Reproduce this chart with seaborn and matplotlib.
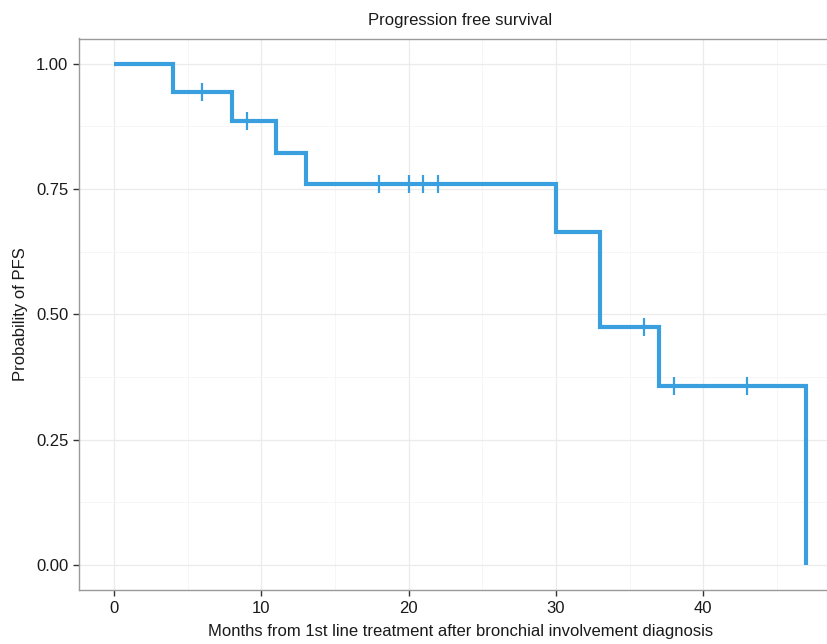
import matplotlib
matplotlib.use("Agg")
import matplotlib.pyplot as plt
import seaborn as sns
import pandas as pd

# Kaplan-Meier step data
step_months = [0, 4, 8, 11, 13, 30, 33, 37, 47]
step_surv = [1.000, 0.944, 0.885, 0.822, 0.759, 0.664, 0.474, 0.356, 0.000]

# censoring marks
censor_months = [6, 9, 18, 20, 21, 22, 36, 38, 43]
censor_surv = [0.944, 0.885, 0.759, 0.759, 0.759, 0.759, 0.474, 0.356, 0.356]

x_ticks = [0, 10, 20, 30, 40]
y_ticks = [0.00, 0.25, 0.50, 0.75, 1.00]
y_ticklabels = ["0.00", "0.25", "0.50", "0.75", "1.00"]

sns.set_style("white")
plt.rcParams["font.family"] = ["Liberation Sans", "DejaVu Sans"]

fig = plt.figure(figsize=(8.27, 6.44), dpi=100)
ax = fig.add_axes([79.4 / 827, (644 - 590) / 644, (841 - 79.4) / 827, (590 - 38.5) / 644])

color = "#3A9FDF"
steps = pd.DataFrame({"month": step_months, "surv": step_surv})
cens = pd.DataFrame({"month": censor_months, "surv": censor_surv})

sns.lineplot(data=steps, x="month", y="surv", ax=ax, drawstyle="steps-post",
             color=color, linewidth=3.0, zorder=3, solid_joinstyle="miter",
             solid_capstyle="butt")
sns.scatterplot(data=cens, x="month", y="surv", ax=ax, marker="|", s=150,
                color=color, linewidth=1.6, zorder=4)

ax.set_xlim(-2.35, 49.35)
ax.set_ylim(-0.05, 1.05)
ax.set_xticks(x_ticks)
ax.set_xticklabels([str(t) for t in x_ticks])
ax.set_yticks(y_ticks)
ax.set_yticklabels(y_ticklabels)
ax.set_xticks([5, 15, 25, 35, 45], minor=True)
ax.set_yticks([0.125, 0.375, 0.625, 0.875], minor=True)

ax.grid(True, which="major", color="#EBEBEB", linewidth=0.9)
ax.grid(True, which="minor", color="#F5F5F5", linewidth=0.6)
ax.set_axisbelow(True)

for s in ax.spines.values():
    s.set_color("#9A9A9A")
    s.set_linewidth(1.0)

ax.tick_params(axis="both", which="major", length=4.5, width=1.0, color="#333333",
               labelsize=12, labelcolor="#1A1A1A", pad=3.5, direction="out")
ax.tick_params(axis="both", which="minor", length=0)
ax.tick_params(left=True, bottom=True)

ax.set_xlabel("Months from 1st line treatment after bronchial involvement diagnosis",
              fontsize=12, color="#1A1A1A", labelpad=6)
ax.set_ylabel("Probability of PFS", fontsize=12, color="#1A1A1A", labelpad=6)
ax.set_title("Progression free survival", fontsize=12, color="#1A1A1A", pad=10)

fig.savefig("out.png", dpi=100)
